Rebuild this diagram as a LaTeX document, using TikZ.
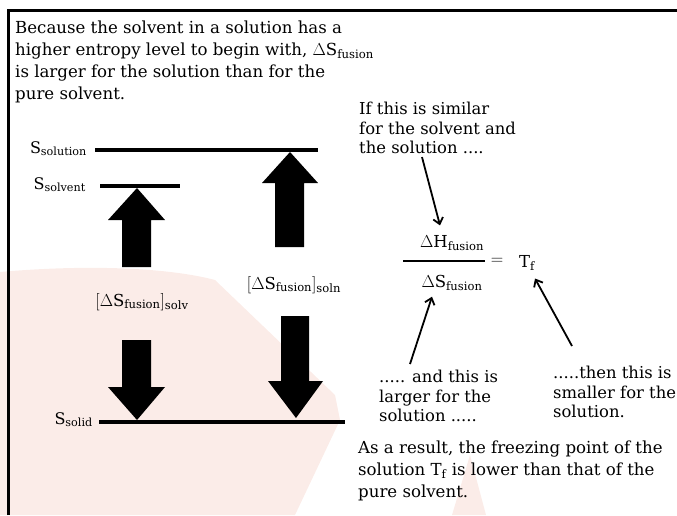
\documentclass[tikz,border=0pt]{standalone}
\usepackage{fontspec}
\setmainfont{DejaVu Serif}
\usetikzlibrary{positioning,arrows.meta,calc}
\definecolor{wmark}{RGB}{251,236,232}

\tikzset{
  para/.style={anchor=north west, inner sep=0pt, align=left, font=\fontsize{16.6}{22}\selectfont},
  note/.style={anchor=north west, inner sep=0pt, align=left, font=\fontsize{16.4}{19.5}\selectfont},
  level/.style={line width=4pt},
  lvl/.style={anchor=base east, inner sep=0pt, font=\fontsize{16}{16}\selectfont},
  dlabel/.style={inner sep=0pt, font=\fontsize{16.5}{16}\selectfont},
  pointer/.style={line width=1.8pt, -{Straight Barb[length=6pt,width=10pt]}},
}

\begin{document}
\begin{tikzpicture}[x=1pt,y=-1pt]
\useasboundingbox (0,0) rectangle (677,515);

% faint background mark
\fill[wmark] (0,272) .. controls (90,264) and (170,268) .. (215,280) -- (335,395)
  -- (340,420) -- (295,515) -- (0,515) -- cycle;
\fill[wmark] (452,515) -- (470,455) -- (486,515) -- cycle;

% frame
\coordinate (fbl) at (8,515); \coordinate (ftl) at (8,10); \coordinate (ftr) at (677,10);
\draw[line width=3pt] (fbl) -- (ftl) -- (ftr);

\node[para] (intro) at (15,21) {Because the solvent in a solution has a\\
higher entropy level to begin with, $\Delta\mathrm{S}_{\mathrm{fusion}}$\\
is larger for the solution than for the\\
pure solvent.};

% entropy levels
\coordinate (soln-l) at (95,150); \coordinate (soln-r) at (318,150);
\coordinate (solv-l) at (100,186); \coordinate (solv-r) at (180,186);
\coordinate (solid-l) at (99,422); \coordinate (solid-r) at (345,422);
\draw[level] (soln-l) -- (soln-r);
\draw[level] (solv-l) -- (solv-r);
\draw[level] (solid-l) -- (solid-r);
\node[lvl] (s-soln) at (87,153) {$\mathrm{S}_{\mathrm{solution}}$};
\node[lvl] (s-solv) at (86,189) {$\mathrm{S}_{\mathrm{solvent}}$};
\node[lvl] (s-solid) at (93,424) {$\mathrm{S}_{\mathrm{solid}}$};

% big arrows
\fill (137,188) -- (165,220) -- (151,220) -- (151,267) -- (122,267) -- (122,220) -- (108,220) -- cycle;
\fill (290,152) -- (318,183) -- (304,183) -- (304,247) -- (275,247) -- (275,183) -- (262,183) -- cycle;
\fill (137,420) -- (165,387) -- (151,387) -- (151,340) -- (122,340) -- (122,387) -- (108,387) -- cycle;
\fill (296,418) -- (323,381) -- (309,381) -- (309,316) -- (281,316) -- (281,381) -- (268,381) -- cycle;

\node[dlabel] (dsoln) at (294,285) {$[\Delta\mathrm{S}_{\mathrm{fusion}}]_{\mathrm{soln}}$};
\node[dlabel] (dsolv) at (142,302) {$[\Delta\mathrm{S}_{\mathrm{fusion}}]_{\mathrm{solv}}$};

% the fraction
\node[dlabel] (dH) at (452,243) {$\Delta\mathrm{H}_{\mathrm{fusion}}$};
\node[dlabel] (dS) at (452,283) {$\Delta\mathrm{S}_{\mathrm{fusion}}$};
\coordinate (bar-l) at (403,261); \coordinate (bar-r) at (485,261);
\draw[line width=2pt] (bar-l) -- (bar-r);
\node[dlabel] (eq) at (497,261) {$=$};
\node[dlabel] (Tf) at (527,263) {$\mathrm{T}_{\mathrm{f}}$};

% notes
\node[note] (similar) at (359,102) {If this is similar\\for the solvent and\\the solution ....};
\node[note] (larger) at (379,370) {..... and this is\\larger for the\\solution .....};
\node[note] (smaller) at (553,366) {.....then this is\\smaller for the\\solution.};
\node[para] (result) at (358,441) {As a result, the freezing point of the\\
solution $\mathrm{T}_{\mathrm{f}}$ is lower than that of the\\
pure solvent.};

\draw[pointer] ($(similar.south west)+(63,3)$) -- ($(dH.north)+(-12,-10)$);
\draw[pointer] ($(larger.north west)+(31,-6)$) -- ($(dS.south)+(-20,6)$);
\draw[pointer] ($(smaller.north west)+(19,-20)$) -- ($(Tf.south)+(8,8)$);
\end{tikzpicture}
\end{document}
